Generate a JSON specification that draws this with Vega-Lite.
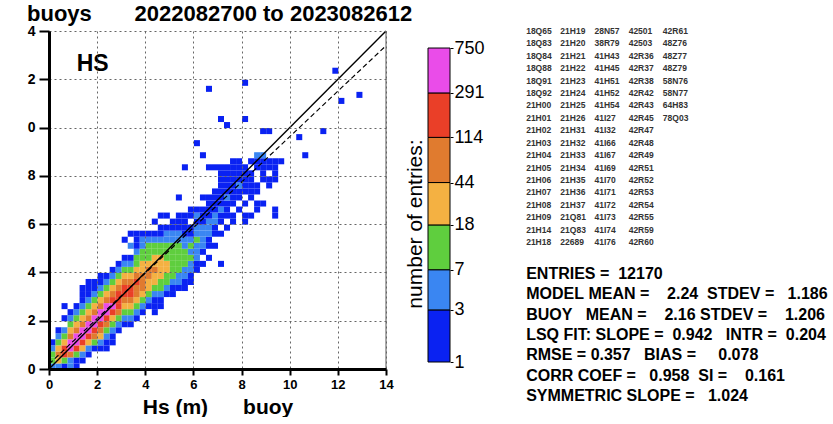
{
  "$schema": "https://vega.github.io/schema/vega-lite/v6.json",
  "background": "white",
  "padding": {"left": 27, "top": 3, "right": 0, "bottom": 0},
  "config": {
    "font": "Liberation Sans",
    "view": {"stroke": null}
  },
  "datasets": {
    "cells": [
      {"x":0,"y":0,"n":4},{"x":0,"y":0.25,"n":9},{"x":0,"y":0.5,"n":12},{"x":0,"y":0.75,"n":5},{"x":0,"y":1,"n":2},
      {"x":0.25,"y":0,"n":3},{"x":0.25,"y":0.25,"n":25},{"x":0.25,"y":0.5,"n":60},{"x":0.25,"y":0.75,"n":35},{"x":0.25,"y":1,"n":14},{"x":0.25,"y":1.25,"n":4},{"x":0.25,"y":1.5,"n":1},
      {"x":0.5,"y":0,"n":1},{"x":0.5,"y":0.25,"n":12},{"x":0.5,"y":0.5,"n":180},{"x":0.5,"y":0.75,"n":130},{"x":0.5,"y":1,"n":40},{"x":0.5,"y":1.25,"n":15},{"x":0.5,"y":1.5,"n":5},{"x":0.5,"y":2,"n":1},{"x":0.5,"y":2.5,"n":1},
      {"x":0.75,"y":0,"n":3},{"x":0.75,"y":0.25,"n":6},{"x":0.75,"y":0.5,"n":70},{"x":0.75,"y":0.75,"n":320},{"x":0.75,"y":1,"n":300},{"x":0.75,"y":1.25,"n":75},{"x":0.75,"y":1.5,"n":30},{"x":0.75,"y":1.75,"n":12},{"x":0.75,"y":2,"n":4},{"x":0.75,"y":2.25,"n":2},
      {"x":1,"y":0,"n":1},{"x":1,"y":0.25,"n":2},{"x":1,"y":0.5,"n":16},{"x":1,"y":0.75,"n":160},{"x":1,"y":1,"n":460},{"x":1,"y":1.25,"n":330},{"x":1,"y":1.5,"n":90},{"x":1,"y":1.75,"n":32},{"x":1,"y":2,"n":10},{"x":1,"y":2.25,"n":4},{"x":1,"y":2.5,"n":1},
      {"x":1.25,"y":0.25,"n":1},{"x":1.25,"y":0.5,"n":5},{"x":1.25,"y":0.75,"n":30},{"x":1.25,"y":1,"n":130},{"x":1.25,"y":1.25,"n":520},{"x":1.25,"y":1.5,"n":310},{"x":1.25,"y":1.75,"n":100},{"x":1.25,"y":2,"n":38},{"x":1.25,"y":2.25,"n":13},{"x":1.25,"y":2.5,"n":5},{"x":1.25,"y":2.75,"n":2},{"x":1.25,"y":3,"n":1},{"x":1.25,"y":3.25,"n":1},
      {"x":1.5,"y":0.5,"n":1},{"x":1.5,"y":0.75,"n":4},{"x":1.5,"y":1,"n":26},{"x":1.5,"y":1.25,"n":140},{"x":1.5,"y":1.5,"n":540},{"x":1.5,"y":1.75,"n":330},{"x":1.5,"y":2,"n":95},{"x":1.5,"y":2.25,"n":40},{"x":1.5,"y":2.5,"n":14},{"x":1.5,"y":2.75,"n":5},{"x":1.5,"y":3,"n":1},{"x":1.5,"y":3.25,"n":2},{"x":1.5,"y":3.5,"n":1},
      {"x":1.75,"y":0.75,"n":2},{"x":1.75,"y":1,"n":11},{"x":1.75,"y":1.25,"n":70},{"x":1.75,"y":1.5,"n":230},{"x":1.75,"y":1.75,"n":500},{"x":1.75,"y":2,"n":300},{"x":1.75,"y":2.25,"n":105},{"x":1.75,"y":2.5,"n":36},{"x":1.75,"y":2.75,"n":15},{"x":1.75,"y":3,"n":4},{"x":1.75,"y":3.25,"n":2},{"x":1.75,"y":3.5,"n":1},
      {"x":2,"y":0.75,"n":1},{"x":2,"y":1,"n":4},{"x":2,"y":1.25,"n":22},{"x":2,"y":1.5,"n":85},{"x":2,"y":1.75,"n":250},{"x":2,"y":2,"n":450},{"x":2,"y":2.25,"n":300},{"x":2,"y":2.5,"n":80},{"x":2,"y":2.75,"n":30},{"x":2,"y":3,"n":12},{"x":2,"y":3.25,"n":5},{"x":2,"y":3.5,"n":1},{"x":2,"y":3.75,"n":1},
      {"x":2.25,"y":0.75,"n":1},{"x":2.25,"y":1,"n":2},{"x":2.25,"y":1.25,"n":5},{"x":2.25,"y":1.5,"n":14},{"x":2.25,"y":1.75,"n":60},{"x":2.25,"y":2,"n":200},{"x":2.25,"y":2.25,"n":380},{"x":2.25,"y":2.5,"n":295},{"x":2.25,"y":2.75,"n":78},{"x":2.25,"y":3,"n":28},{"x":2.25,"y":3.25,"n":11},{"x":2.25,"y":3.5,"n":4},{"x":2.25,"y":3.75,"n":1},
      {"x":2.5,"y":1,"n":1},{"x":2.5,"y":1.25,"n":2},{"x":2.5,"y":1.5,"n":5},{"x":2.5,"y":1.75,"n":15},{"x":2.5,"y":2,"n":40},{"x":2.5,"y":2.25,"n":150},{"x":2.5,"y":2.5,"n":300},{"x":2.5,"y":2.75,"n":170},{"x":2.5,"y":3,"n":70},{"x":2.5,"y":3.25,"n":25},{"x":2.5,"y":3.5,"n":10},{"x":2.5,"y":3.75,"n":4},{"x":2.5,"y":4,"n":1},
      {"x":2.75,"y":1.5,"n":1},{"x":2.75,"y":1.75,"n":4},{"x":2.75,"y":2,"n":12},{"x":2.75,"y":2.25,"n":50},{"x":2.75,"y":2.5,"n":130},{"x":2.75,"y":2.75,"n":250},{"x":2.75,"y":3,"n":150},{"x":2.75,"y":3.25,"n":60},{"x":2.75,"y":3.5,"n":24},{"x":2.75,"y":3.75,"n":9},{"x":2.75,"y":4,"n":4},{"x":2.75,"y":4.25,"n":1},
      {"x":3,"y":1.75,"n":2},{"x":3,"y":2,"n":5},{"x":3,"y":2.25,"n":13},{"x":3,"y":2.5,"n":35},{"x":3,"y":2.75,"n":100},{"x":3,"y":3,"n":180},{"x":3,"y":3.25,"n":140},{"x":3,"y":3.5,"n":55},{"x":3,"y":3.75,"n":22},{"x":3,"y":4,"n":9},{"x":3,"y":4.25,"n":4},{"x":3,"y":4.5,"n":1},{"x":3,"y":5.25,"n":1},
      {"x":3.25,"y":1.75,"n":1},{"x":3.25,"y":2,"n":4},{"x":3.25,"y":2.25,"n":10},{"x":3.25,"y":2.5,"n":25},{"x":3.25,"y":2.75,"n":65},{"x":3.25,"y":3,"n":125},{"x":3.25,"y":3.25,"n":160},{"x":3.25,"y":3.5,"n":90},{"x":3.25,"y":3.75,"n":30},{"x":3.25,"y":4,"n":11},{"x":3.25,"y":4.25,"n":5},{"x":3.25,"y":4.5,"n":2},{"x":3.25,"y":5,"n":3},{"x":3.25,"y":5.5,"n":1},
      {"x":3.5,"y":2,"n":1},{"x":3.5,"y":2.25,"n":4},{"x":3.5,"y":2.5,"n":11},{"x":3.5,"y":2.75,"n":26},{"x":3.5,"y":3,"n":60},{"x":3.5,"y":3.25,"n":100},{"x":3.5,"y":3.5,"n":120},{"x":3.5,"y":3.75,"n":75},{"x":3.5,"y":4,"n":28},{"x":3.5,"y":4.25,"n":12},{"x":3.5,"y":4.5,"n":8},{"x":3.5,"y":4.75,"n":4},{"x":3.5,"y":5,"n":1},{"x":3.5,"y":5.25,"n":2},{"x":3.5,"y":5.5,"n":1},
      {"x":3.75,"y":2.25,"n":2},{"x":3.75,"y":2.5,"n":5},{"x":3.75,"y":2.75,"n":10},{"x":3.75,"y":3,"n":24},{"x":3.75,"y":3.25,"n":50},{"x":3.75,"y":3.5,"n":85},{"x":3.75,"y":3.75,"n":95},{"x":3.75,"y":4,"n":40},{"x":3.75,"y":4.25,"n":20},{"x":3.75,"y":4.5,"n":11},{"x":3.75,"y":4.75,"n":8},{"x":3.75,"y":5,"n":4},{"x":3.75,"y":5.25,"n":3},{"x":3.75,"y":5.5,"n":1},
      {"x":4,"y":2.5,"n":1},{"x":4,"y":2.75,"n":4},{"x":4,"y":3,"n":9},{"x":4,"y":3.25,"n":20},{"x":4,"y":3.5,"n":38},{"x":4,"y":3.75,"n":65},{"x":4,"y":4,"n":80},{"x":4,"y":4.25,"n":42},{"x":4,"y":4.5,"n":15},{"x":4,"y":4.75,"n":9},{"x":4,"y":5,"n":7},{"x":4,"y":5.25,"n":3},{"x":4,"y":5.5,"n":1},
      {"x":4.25,"y":2.25,"n":1},{"x":4.25,"y":2.5,"n":1},{"x":4.25,"y":2.75,"n":2},{"x":4.25,"y":3,"n":4},{"x":4.25,"y":3.25,"n":11},{"x":4.25,"y":3.5,"n":22},{"x":4.25,"y":3.75,"n":36},{"x":4.25,"y":4,"n":52},{"x":4.25,"y":4.25,"n":40},{"x":4.25,"y":4.5,"n":20},{"x":4.25,"y":4.75,"n":12},{"x":4.25,"y":5,"n":8},{"x":4.25,"y":5.25,"n":4},{"x":4.25,"y":5.5,"n":2},{"x":4.25,"y":6,"n":1},
      {"x":4.5,"y":2.5,"n":1},{"x":4.5,"y":2.75,"n":1},{"x":4.5,"y":3,"n":3},{"x":4.5,"y":3.25,"n":8},{"x":4.5,"y":3.5,"n":14},{"x":4.5,"y":3.75,"n":22},{"x":4.5,"y":4,"n":30},{"x":4.5,"y":4.25,"n":38},{"x":4.5,"y":4.5,"n":25},{"x":4.5,"y":4.75,"n":15},{"x":4.5,"y":5,"n":9},{"x":4.5,"y":5.25,"n":5},{"x":4.5,"y":5.5,"n":2},{"x":4.5,"y":5.75,"n":1},{"x":4.5,"y":6.25,"n":1},
      {"x":4.75,"y":3,"n":1},{"x":4.75,"y":3.25,"n":3},{"x":4.75,"y":3.5,"n":7},{"x":4.75,"y":3.75,"n":12},{"x":4.75,"y":4,"n":20},{"x":4.75,"y":4.25,"n":24},{"x":4.75,"y":4.5,"n":17},{"x":4.75,"y":4.75,"n":14},{"x":4.75,"y":5,"n":9},{"x":4.75,"y":5.25,"n":5},{"x":4.75,"y":5.5,"n":3},{"x":4.75,"y":5.75,"n":1},{"x":4.75,"y":6.25,"n":1},
      {"x":5,"y":3,"n":2},{"x":5,"y":3.25,"n":1},{"x":5,"y":3.5,"n":4},{"x":5,"y":3.75,"n":8},{"x":5,"y":4,"n":12},{"x":5,"y":4.25,"n":15},{"x":5,"y":4.5,"n":16},{"x":5,"y":4.75,"n":13},{"x":5,"y":5,"n":10},{"x":5,"y":5.25,"n":6},{"x":5,"y":5.5,"n":3},{"x":5,"y":5.75,"n":2},{"x":5,"y":6,"n":1},
      {"x":5.25,"y":3.25,"n":1},{"x":5.25,"y":3.5,"n":3},{"x":5.25,"y":3.75,"n":5},{"x":5.25,"y":4,"n":9},{"x":5.25,"y":4.25,"n":11},{"x":5.25,"y":4.5,"n":13},{"x":5.25,"y":4.75,"n":12},{"x":5.25,"y":5,"n":8},{"x":5.25,"y":5.25,"n":5},{"x":5.25,"y":5.5,"n":4},{"x":5.25,"y":5.75,"n":2},{"x":5.25,"y":6,"n":1},{"x":5.25,"y":6.25,"n":1},{"x":5.25,"y":7,"n":1},
      {"x":5.5,"y":3.25,"n":1},{"x":5.5,"y":3.5,"n":2},{"x":5.5,"y":3.75,"n":4},{"x":5.5,"y":4,"n":6},{"x":5.5,"y":4.25,"n":9},{"x":5.5,"y":4.5,"n":10},{"x":5.5,"y":4.75,"n":8},{"x":5.5,"y":5,"n":6},{"x":5.5,"y":5.25,"n":5},{"x":5.5,"y":5.5,"n":2},{"x":5.5,"y":5.75,"n":2},{"x":5.5,"y":6,"n":1},{"x":5.5,"y":6.25,"n":1},{"x":5.5,"y":8.25,"n":1},
      {"x":5.75,"y":3.5,"n":1},{"x":5.75,"y":3.75,"n":2},{"x":5.75,"y":4,"n":3},{"x":5.75,"y":4.25,"n":5},{"x":5.75,"y":4.5,"n":8},{"x":5.75,"y":4.75,"n":6},{"x":5.75,"y":5,"n":7},{"x":5.75,"y":5.25,"n":4},{"x":5.75,"y":5.5,"n":2},{"x":5.75,"y":5.75,"n":2},{"x":5.75,"y":6.25,"n":1},{"x":5.75,"y":6.5,"n":1},
      {"x":6,"y":4,"n":1},{"x":6,"y":4.25,"n":2},{"x":6,"y":4.5,"n":3},{"x":6,"y":4.75,"n":4},{"x":6,"y":5,"n":5},{"x":6,"y":5.25,"n":7},{"x":6,"y":5.5,"n":4},{"x":6,"y":5.75,"n":3},{"x":6,"y":6,"n":2},{"x":6,"y":6.25,"n":3},{"x":6,"y":6.5,"n":1},{"x":6,"y":9.25,"n":1},
      {"x":6.25,"y":4.25,"n":1},{"x":6.25,"y":4.75,"n":2},{"x":6.25,"y":5,"n":3},{"x":6.25,"y":5.25,"n":4},{"x":6.25,"y":5.5,"n":5},{"x":6.25,"y":5.75,"n":3},{"x":6.25,"y":6,"n":2},{"x":6.25,"y":6.25,"n":2},{"x":6.25,"y":6.5,"n":1},{"x":6.25,"y":7,"n":1},{"x":6.25,"y":8.75,"n":1},
      {"x":6.5,"y":4.5,"n":1},{"x":6.5,"y":5,"n":1},{"x":6.5,"y":5.25,"n":2},{"x":6.5,"y":5.5,"n":3},{"x":6.5,"y":5.75,"n":4},{"x":6.5,"y":6,"n":3},{"x":6.5,"y":6.25,"n":2},{"x":6.5,"y":6.5,"n":2},{"x":6.5,"y":6.75,"n":1},{"x":6.5,"y":7,"n":1},{"x":6.5,"y":8.25,"n":1},{"x":6.5,"y":11.5,"n":1},
      {"x":6.75,"y":5,"n":1},{"x":6.75,"y":5.5,"n":2},{"x":6.75,"y":5.75,"n":1},{"x":6.75,"y":6,"n":3},{"x":6.75,"y":6.25,"n":4},{"x":6.75,"y":6.5,"n":2},{"x":6.75,"y":6.75,"n":2},{"x":6.75,"y":7,"n":1},{"x":6.75,"y":7.25,"n":1},{"x":6.75,"y":8.25,"n":1},
      {"x":7,"y":4.25,"n":1},{"x":7,"y":5.5,"n":1},{"x":7,"y":6,"n":2},{"x":7,"y":6.25,"n":1},{"x":7,"y":6.5,"n":3},{"x":7,"y":6.75,"n":2},{"x":7,"y":7,"n":2},{"x":7,"y":7.25,"n":1},{"x":7,"y":7.5,"n":2},{"x":7,"y":7.75,"n":1},{"x":7,"y":8,"n":1},{"x":7,"y":8.25,"n":1},{"x":7,"y":10.25,"n":1},
      {"x":7.25,"y":5.75,"n":1},{"x":7.25,"y":6.25,"n":1},{"x":7.25,"y":6.5,"n":2},{"x":7.25,"y":6.75,"n":1},{"x":7.25,"y":7,"n":3},{"x":7.25,"y":7.25,"n":2},{"x":7.25,"y":7.5,"n":1},{"x":7.25,"y":7.75,"n":2},{"x":7.25,"y":8,"n":1},{"x":7.25,"y":8.25,"n":1},{"x":7.25,"y":10,"n":1},
      {"x":7.5,"y":6,"n":1},{"x":7.5,"y":6.25,"n":1},{"x":7.5,"y":6.75,"n":2},{"x":7.5,"y":7,"n":1},{"x":7.5,"y":7.25,"n":2},{"x":7.5,"y":7.5,"n":2},{"x":7.5,"y":7.75,"n":1},{"x":7.5,"y":8,"n":1},{"x":7.5,"y":8.25,"n":1},{"x":7.5,"y":8.5,"n":1},
      {"x":7.75,"y":6.5,"n":1},{"x":7.75,"y":7,"n":1},{"x":7.75,"y":7.25,"n":2},{"x":7.75,"y":7.5,"n":3},{"x":7.75,"y":7.75,"n":2},{"x":7.75,"y":8,"n":1},{"x":7.75,"y":8.25,"n":1},{"x":7.75,"y":8.5,"n":1},
      {"x":8,"y":6,"n":1},{"x":8,"y":6.25,"n":1},{"x":8,"y":6.75,"n":1},{"x":8,"y":7.25,"n":1},{"x":8,"y":7.5,"n":2},{"x":8,"y":7.75,"n":1},{"x":8,"y":8,"n":1},{"x":8,"y":8.25,"n":1},{"x":8,"y":10.25,"n":1},{"x":8,"y":11.75,"n":1},
      {"x":8.25,"y":6.25,"n":1},{"x":8.25,"y":7,"n":1},{"x":8.25,"y":7.25,"n":1},{"x":8.25,"y":7.5,"n":1},{"x":8.25,"y":7.75,"n":2},{"x":8.25,"y":8,"n":1},{"x":8.25,"y":8.5,"n":1},
      {"x":8.5,"y":6.5,"n":1},{"x":8.5,"y":6.75,"n":1},{"x":8.5,"y":7.25,"n":1},{"x":8.5,"y":7.5,"n":1},{"x":8.5,"y":8.25,"n":1},{"x":8.5,"y":8.5,"n":2},{"x":8.5,"y":8.75,"n":3},
      {"x":8.75,"y":6.75,"n":1},{"x":8.75,"y":7.75,"n":1},{"x":8.75,"y":8,"n":1},{"x":8.75,"y":8.25,"n":1},{"x":8.75,"y":8.5,"n":1},{"x":8.75,"y":8.75,"n":3},{"x":8.75,"y":9.75,"n":1},
      {"x":9,"y":7.5,"n":1},{"x":9,"y":7.75,"n":1},{"x":9,"y":8.25,"n":1},{"x":9,"y":8.5,"n":1},{"x":9,"y":9.75,"n":1},
      {"x":9.25,"y":6.25,"n":1},{"x":9.25,"y":6.5,"n":1},{"x":9.25,"y":7.75,"n":1},{"x":9.25,"y":8,"n":1},{"x":9.25,"y":8.25,"n":1},{"x":9.25,"y":8.5,"n":1},
      {"x":9.5,"y":8.5,"n":1},
      {"x":10.25,"y":9.5,"n":1},
      {"x":10.5,"y":8.75,"n":1},
      {"x":11.25,"y":9.75,"n":1},
      {"x":11.75,"y":12.25,"n":1},
      {"x":12,"y":11,"n":1},
      {"x":12.75,"y":11.25,"n":1}
    ],
    "bands": [
      {"lo":1,"hi":3},{"lo":3,"hi":7},{"lo":7,"hi":18},{"lo":18,"hi":44},{"lo":44,"hi":114},{"lo":114,"hi":291},{"lo":291,"hi":750}
    ],
    "stations": [
      {"c":0,"r":0,"s":"18Q65"},{"c":0,"r":1,"s":"18Q83"},{"c":0,"r":2,"s":"18Q84"},{"c":0,"r":3,"s":"18Q88"},{"c":0,"r":4,"s":"18Q91"},{"c":0,"r":5,"s":"18Q92"},{"c":0,"r":6,"s":"21H00"},{"c":0,"r":7,"s":"21H01"},{"c":0,"r":8,"s":"21H02"},{"c":0,"r":9,"s":"21H03"},{"c":0,"r":10,"s":"21H04"},{"c":0,"r":11,"s":"21H05"},{"c":0,"r":12,"s":"21H06"},{"c":0,"r":13,"s":"21H07"},{"c":0,"r":14,"s":"21H08"},{"c":0,"r":15,"s":"21H09"},{"c":0,"r":16,"s":"21H14"},{"c":0,"r":17,"s":"21H18"},
      {"c":1,"r":0,"s":"21H19"},{"c":1,"r":1,"s":"21H20"},{"c":1,"r":2,"s":"21H21"},{"c":1,"r":3,"s":"21H22"},{"c":1,"r":4,"s":"21H23"},{"c":1,"r":5,"s":"21H24"},{"c":1,"r":6,"s":"21H25"},{"c":1,"r":7,"s":"21H26"},{"c":1,"r":8,"s":"21H31"},{"c":1,"r":9,"s":"21H32"},{"c":1,"r":10,"s":"21H33"},{"c":1,"r":11,"s":"21H34"},{"c":1,"r":12,"s":"21H35"},{"c":1,"r":13,"s":"21H36"},{"c":1,"r":14,"s":"21H37"},{"c":1,"r":15,"s":"21Q81"},{"c":1,"r":16,"s":"21Q83"},{"c":1,"r":17,"s":"22689"},
      {"c":2,"r":0,"s":"28N57"},{"c":2,"r":1,"s":"38R79"},{"c":2,"r":2,"s":"41H43"},{"c":2,"r":3,"s":"41H45"},{"c":2,"r":4,"s":"41H51"},{"c":2,"r":5,"s":"41H52"},{"c":2,"r":6,"s":"41H54"},{"c":2,"r":7,"s":"41I27"},{"c":2,"r":8,"s":"41I32"},{"c":2,"r":9,"s":"41I66"},{"c":2,"r":10,"s":"41I67"},{"c":2,"r":11,"s":"41I69"},{"c":2,"r":12,"s":"41I70"},{"c":2,"r":13,"s":"41I71"},{"c":2,"r":14,"s":"41I72"},{"c":2,"r":15,"s":"41I73"},{"c":2,"r":16,"s":"41I74"},{"c":2,"r":17,"s":"41I76"},
      {"c":3,"r":0,"s":"42501"},{"c":3,"r":1,"s":"42503"},{"c":3,"r":2,"s":"42R36"},{"c":3,"r":3,"s":"42R37"},{"c":3,"r":4,"s":"42R38"},{"c":3,"r":5,"s":"42R42"},{"c":3,"r":6,"s":"42R43"},{"c":3,"r":7,"s":"42R45"},{"c":3,"r":8,"s":"42R47"},{"c":3,"r":9,"s":"42R48"},{"c":3,"r":10,"s":"42R49"},{"c":3,"r":11,"s":"42R51"},{"c":3,"r":12,"s":"42R52"},{"c":3,"r":13,"s":"42R53"},{"c":3,"r":14,"s":"42R54"},{"c":3,"r":15,"s":"42R55"},{"c":3,"r":16,"s":"42R59"},{"c":3,"r":17,"s":"42R60"},
      {"c":4,"r":0,"s":"42R61"},{"c":4,"r":1,"s":"48Z76"},{"c":4,"r":2,"s":"48Z77"},{"c":4,"r":3,"s":"48Z79"},{"c":4,"r":4,"s":"58N76"},{"c":4,"r":5,"s":"58N77"},{"c":4,"r":6,"s":"64H83"},{"c":4,"r":7,"s":"78Q03"}
    ],
    "stats": [
      {"c":0,"k":0,"s":"ENTRIES\u00a0=\u00a0\u00a012170"},
      {"c":0,"k":1,"s":"MODEL\u00a0MEAN\u00a0=\u00a0\u00a0\u00a0\u00a02.24\u00a0\u00a0STDEV\u00a0=\u00a0\u00a0\u00a01.186"},
      {"c":0,"k":2,"s":"BUOY\u00a0\u00a0\u00a0MEAN\u00a0=\u00a0\u00a0\u00a0\u00a02.16\u00a0STDEV\u00a0=\u00a0\u00a0\u00a0\u00a01.206"},
      {"c":0,"k":3,"s":"LSQ\u00a0FIT:\u00a0SLOPE\u00a0=\u00a0\u00a00.942\u00a0\u00a0\u00a0INTR\u00a0=\u00a0\u00a00.204"},
      {"c":0,"k":4,"s":"RMSE\u00a0=\u00a00.357\u00a0\u00a0\u00a0BIAS\u00a0=\u00a0\u00a0\u00a0\u00a0\u00a00.078"},
      {"c":0,"k":5,"s":"CORR\u00a0COEF\u00a0=\u00a0\u00a0\u00a00.958\u00a0\u00a0SI\u00a0=\u00a0\u00a0\u00a0\u00a00.161"},
      {"c":0,"k":6,"s":"SYMMETRIC\u00a0SLOPE\u00a0=\u00a0\u00a0\u00a01.024"}
    ]
  },
  "bounds": "flush",
  "spacing": 42,
  "hconcat": [
    {
      "width": 337,
      "height": 338,
      "title": {
        "text": "buoys\u00a0\u00a0\u00a0\u00a0\u00a0\u00a0\u00a02022082700 to 2023082612",
        "anchor": "start",
        "frame": "group",
        "dx": -22,
        "offset": -19,
        "baseline": "alphabetic",
        "fontSize": 22,
        "fontWeight": "bold",
        "color": "black"
      },
      "layer": [
        {
          "data": {"name": "cells"},
          "mark": {"type": "rect"},
          "encoding": {
            "x": {
              "field": "x", "type": "quantitative",
              "bin": {"binned": true, "step": 0.25},
              "scale": {"domain": [0, 14], "nice": false},
              "axis": {
                "values": [0, 2, 4, 6, 8, 10, 12, 14], "format": "d",
                "grid": true, "gridDash": [2, 3], "gridColor": "#666", "gridWidth": 1,
                "domainColor": "black", "domainWidth": 3,
                "tickColor": "black", "tickWidth": 2, "tickSize": 6,
                "labelFontSize": 13, "labelFontWeight": "bold", "labelColor": "black", "labelPadding": 3, "labelFlush": false,
                "title": "Hs (m)\u00a0\u00a0\u00a0\u00a0\u00a0\u00a0buoy",
                "titleFontSize": 21, "titleFontWeight": "bold", "titleColor": "black", "titlePadding": 5,
                "zindex": 1
              }
            },
            "y": {
              "field": "y", "type": "quantitative",
              "bin": {"binned": true, "step": 0.25},
              "scale": {"domain": [0, 14], "nice": false},
              "axis": {
                "values": [0, 2, 4, 6, 8, 10, 12, 14], "format": "d",
                "labelExpr": "datum.value >= 10 ? slice(datum.label, 1) : datum.label",
                "grid": true, "gridDash": [2, 3], "gridColor": "#666", "gridWidth": 1,
                "domainColor": "black", "domainWidth": 3,
                "tickColor": "black", "tickWidth": 2, "tickSize": 10,
                "labelFontSize": 14, "labelFontWeight": "bold", "labelColor": "black", "labelPadding": 4, "labelFlush": false,
                "title": null,
                "zindex": 1
              }
            },
            "color": {
              "field": "n", "type": "quantitative",
              "scale": {
                "type": "threshold",
                "domain": [3, 7, 18, 44, 114, 291],
                "range": ["#0a22f2", "#3a86f2", "#5fce3e", "#f4b142", "#e07b2f", "#ea3f28", "#ea4ce9"]
              },
              "legend": null
            }
          }
        },
        {
          "data": {"values": [{}]},
          "mark": {"type": "rule", "color": "#555", "strokeWidth": 1},
          "encoding": {"x": {"datum": 14, "type": "quantitative"}}
        },
        {
          "data": {"values": [{}]},
          "mark": {"type": "rule", "color": "black", "strokeWidth": 1.4},
          "encoding": {
            "x": {"datum": 0, "type": "quantitative"},
            "y": {"datum": 0, "type": "quantitative"},
            "x2": {"datum": 14},
            "y2": {"datum": 14}
          }
        },
        {
          "data": {"values": [{}]},
          "mark": {"type": "rule", "color": "black", "strokeWidth": 1.2, "strokeDash": [5, 3]},
          "encoding": {
            "x": {"datum": 0, "type": "quantitative"},
            "y": {"datum": 0.204, "type": "quantitative"},
            "x2": {"datum": 14},
            "y2": {"datum": 13.392}
          }
        },
        {
          "data": {"values": [{}]},
          "mark": {"type": "text", "text": "HS", "align": "left", "baseline": "alphabetic", "fontSize": 23, "fontWeight": "bold", "color": "black"},
          "encoding": {
            "x": {"datum": 1.15, "type": "quantitative"},
            "y": {"datum": 12.36, "type": "quantitative"}
          }
        }
      ]
    },
    {
      "width": 22,
      "height": 338,
      "title": {
        "text": "number of entries:",
        "orient": "left",
        "anchor": "middle",
        "offset": 2,
        "dx": -24,
        "fontSize": 21,
        "fontWeight": "normal",
        "color": "black"
      },
      "data": {"name": "bands"},
      "mark": {"type": "rect", "stroke": "black", "strokeWidth": 1},
      "encoding": {
        "y": {
          "field": "lo", "type": "quantitative",
          "scale": {"type": "log", "domain": [0.863, 1074], "nice": false},
          "axis": {
            "orient": "right",
            "values": [1, 3, 7, 18, 44, 114, 291, 750], "format": "d",
            "title": null, "grid": false, "domain": false,
            "tickColor": "black", "tickSize": 3, "tickWidth": 1,
            "labelFontSize": 18, "labelFontWeight": "normal", "labelColor": "black", "labelPadding": 1
          }
        },
        "y2": {"field": "hi"},
        "color": {
          "field": "lo", "type": "quantitative",
          "scale": {
            "type": "threshold",
            "domain": [3, 7, 18, 44, 114, 291],
            "range": ["#0a22f2", "#3a86f2", "#5fce3e", "#f4b142", "#e07b2f", "#ea3f28", "#ea4ce9"]
          },
          "legend": null
        }
      }
    },
    {
      "bounds": "flush",
      "spacing": 32,
      "resolve": {"scale": {"x": "shared"}},
      "vconcat": [
        {
          "width": 205,
          "height": 211,
          "data": {"name": "stations"},
          "mark": {"type": "text", "align": "left", "baseline": "middle", "fontSize": 8.5, "fontWeight": "bold", "color": "#333"},
          "encoding": {
            "x": {"field": "c", "type": "ordinal", "scale": {"type": "point", "padding": 1.04}, "axis": null},
            "y": {"field": "r", "type": "ordinal", "scale": {"type": "point", "padding": 0}, "axis": null},
            "text": {"field": "s"}
          }
        },
        {
          "width": 205,
          "height": 122,
          "data": {"name": "stats"},
          "mark": {"type": "text", "align": "left", "baseline": "middle", "fontSize": 16, "fontWeight": "bold", "color": "black"},
          "encoding": {
            "x": {"field": "c", "type": "ordinal", "scale": {"type": "point", "padding": 1.04}, "axis": null},
            "y": {"field": "k", "type": "ordinal", "scale": {"type": "point", "padding": 0}, "axis": null},
            "text": {"field": "s"}
          }
        }
      ]
    }
  ]
}
